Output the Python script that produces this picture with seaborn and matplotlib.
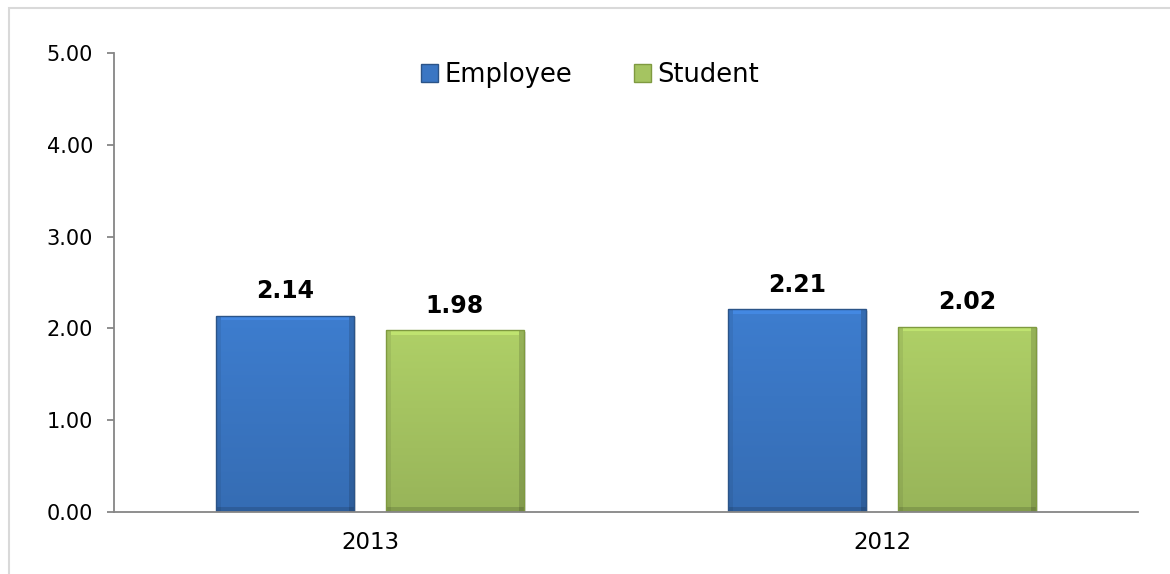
import numpy as np
import pandas as pd
import matplotlib
matplotlib.use("Agg")
import matplotlib.pyplot as plt
import seaborn as sns
from matplotlib.patches import Rectangle
from matplotlib.colors import to_rgb

# Mean scores per year for each respondent group
years = ["2013", "2012"]
groups = ["Employee", "Student"]
employee = [2.14, 2.21]
student = [1.98, 2.02]
y_ticks = [0, 1, 2, 3, 4, 5]

df = pd.DataFrame({
    "Year": years * 2,
    "Group": ["Employee"] * len(years) + ["Student"] * len(years),
    "Score": employee + student,
})

sns.set_theme(style="white")
plt.rcParams["font.family"] = ["DejaVu Sans"]
plt.rcParams["text.color"] = "black"
plt.rcParams["xtick.labelcolor"] = "black"
plt.rcParams["ytick.labelcolor"] = "black"

W, H, DPI = 11.7, 5.74, 100
fig = plt.figure(figsize=(W, H), dpi=DPI)
ax = fig.add_axes([114 / 1170, 1 - 512 / 574, 1024 / 1170, 459 / 574])

base = {"Employee": "#3a76c3", "Student": "#a5c461"}
edges = {"Employee": "#2b5488", "Student": "#7f9a40"}

sns.barplot(data=df, x="Year", y="Score", hue="Group", order=years,
            hue_order=groups, palette=base, width=0.664, gap=0.19,
            saturation=1, ax=ax, zorder=2)

ax.set_xlim(-0.5, len(years) - 0.5)
ax.set_ylim(y_ticks[0], y_ticks[-1])


def bevel_image(color, w_px, h_px, bevel=5):
    """Shaded fill with a light top rim and darker sides/bottom."""
    c = np.array(to_rgb(color))
    rows, cols = max(int(h_px), 2), max(int(w_px), 2)
    yy = np.linspace(0, 1, rows)[:, None]
    shade = np.ones((rows, cols)) * (1.06 - 0.14 * yy)
    r = np.arange(rows)[:, None] * np.ones((1, cols))
    q = np.ones((rows, 1)) * np.arange(cols)[None, :]
    top = r < bevel
    bottom = r >= rows - bevel
    left = q < bevel
    right = q >= cols - bevel
    shade[left] *= 0.93
    shade[right] *= 0.86
    shade[bottom] *= 0.86
    shade[top & ~left & ~right] = 1.16
    img = np.clip(c[None, None, :] * shade[:, :, None], 0, 1)
    return img


px_per_x = 1024 / (len(years))
px_per_y = 459 / (y_ticks[-1] - y_ticks[0])
for grp, cont in zip(groups, ax.containers):
    for bar in cont:
        x, w, h = bar.get_x(), bar.get_width(), bar.get_height()
        img = bevel_image(base[grp], w * px_per_x, h * px_per_y)
        im = ax.imshow(img, extent=[x, x + w, 0, h], aspect="auto",
                       origin="upper", zorder=2.1, interpolation="nearest")
        im.set_clip_path(bar)
        bar.set_edgecolor(edges[grp])
        bar.set_linewidth(1.0)
        bar.set_zorder(2.2)
        bar.set_facecolor("none")
        # soft drop shadow
        ax.add_patch(Rectangle((x + 0.004, -0.02), w, h, facecolor="#000000",
                               alpha=0.12, edgecolor="none", zorder=1.9))
    ax.bar_label(cont, fmt="%.2f", padding=9, fontsize=17,
                 fontweight="bold", color="black")

ax.set_xlim(-0.5, len(years) - 0.5)
ax.set_ylim(y_ticks[0], y_ticks[-1])
ax.set_yticks(y_ticks)
ax.set_yticklabels([f"{v:.2f}" for v in y_ticks], fontsize=15, color="black")
ax.tick_params(axis="y", length=5, width=1.3, color="#868686", pad=10,
               left=True)
ax.tick_params(axis="x", length=0, pad=14, labelsize=16.5, labelcolor="black")
ax.set_xlabel("")
ax.set_ylabel("")

for s in ["top", "right"]:
    ax.spines[s].set_visible(False)
for s in ["left", "bottom"]:
    ax.spines[s].set_color("#868686")
    ax.spines[s].set_linewidth(1.3)

sns.move_legend(ax, loc="center", bbox_to_anchor=(0.465, 0.952), ncol=2,
                frameon=False, title=None, fontsize=18.5, handlelength=0.65,
                handleheight=0.65, handletextpad=0.27, columnspacing=2.4,
                labelcolor="black")
for handle, grp in zip(ax.get_legend().legend_handles, groups):
    handle.set_edgecolor(edges[grp])
    handle.set_linewidth(1.0)

# outer chart-area frame
fig.patches.append(Rectangle((9 / 1170, -0.1), 1.5, 1.1 - 8 / 574,
                             transform=fig.transFigure, fill=False,
                             edgecolor="#d9d9d9", linewidth=1.5))

fig.savefig("out.png", dpi=DPI)
